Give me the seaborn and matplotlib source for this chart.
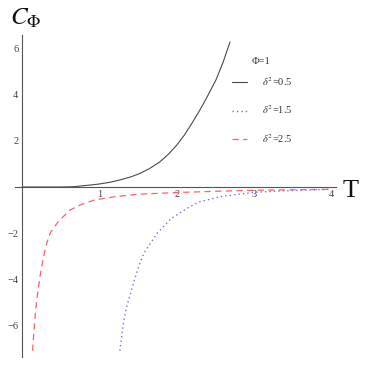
import numpy as np
import pandas as pd
import matplotlib
matplotlib.use("Agg")
import matplotlib.pyplot as plt
from matplotlib.ticker import MultipleLocator
import seaborn as sns

# curves (T, C_Phi)
t_d05 = [0.0, 0.25, 0.5, 0.65, 0.75, 0.9, 1.0, 1.13, 1.26, 1.4, 1.52, 1.65, 1.78,
         1.9, 2.0, 2.1, 2.19, 2.3, 2.4, 2.51, 2.6, 2.69]
c_d05 = [0.0, 0.0, 0.0, 0.01, 0.04, 0.09, 0.13, 0.2, 0.30, 0.43, 0.58, 0.8, 1.08,
         1.44, 1.81, 2.25, 2.72, 3.33, 3.94, 4.65, 5.4, 6.28]

t_d15 = [1.266, 1.288, 1.318, 1.353, 1.404, 1.46, 1.516, 1.576, 1.645, 1.75, 1.93,
         2.17, 2.3, 2.56, 3.0, 3.42, 4.0]
c_d15 = [-7.09, -6.48, -5.76, -5.18, -4.60, -3.95, -3.38, -2.87, -2.51, -2.0, -1.36,
         -0.85, -0.64, -0.42, -0.23, -0.16, -0.10]

t_d25 = [0.138, 0.146, 0.177, 0.203, 0.233, 0.275, 0.319, 0.37, 0.469, 0.62, 0.75,
         0.94, 1.2, 1.52, 2.0, 2.56, 3.0, 3.5, 4.0]
c_d25 = [-7.09, -6.62, -5.32, -4.60, -3.88, -3.09, -2.44, -1.96, -1.50, -1.0, -0.78,
         -0.56, -0.42, -0.31, -0.24, -0.18, -0.14, -0.12, -0.10]

labels = [r"$\delta^2$=0.5", r"$\delta^2$=1.5", r"$\delta^2$=2.5"]
x_ticks = [1, 2, 3, 4]
y_ticks = [-6, -4, -2, 2, 4, 6]

sns.set_style("white")
plt.rcParams["font.family"] = ["Liberation Serif", "DejaVu Serif"]
plt.rcParams["mathtext.fontset"] = "stix"

fig = plt.figure(figsize=(3.74, 3.66), dpi=100)
ax = fig.add_axes([15 / 374, 9 / 366, 321 / 374, 322 / 366])

styles = [
    dict(color="#4a4a4a", linewidth=0.8, linestyle="-"),
    dict(color="#6f6fff", linewidth=1.0, linestyle=(0, (1, 2.2))),
    dict(color="#ff6060", linewidth=0.9, linestyle=(0, (5, 3.5))),
]
series = [(t_d05, c_d05), (t_d15, c_d15), (t_d25, c_d25)]
for (t, c), lab, st in zip(series, labels, styles):
    df = pd.DataFrame({"T": t, "C": c})
    sns.lineplot(data=df, x="T", y="C", ax=ax, sort=False, label=lab, **st)

ax.set_xlim(-0.09, 4.06)
ax.set_ylim(-7.36, 6.58)

# Mathematica-style axes through the origin
for s in ["top", "right"]:
    ax.spines[s].set_visible(False)
for s in ["left", "bottom"]:
    ax.spines[s].set_position(("data", 0))
    ax.spines[s].set_color("#555555")
    ax.spines[s].set_linewidth(0.8)

ax.set_xticks(x_ticks)
ax.set_yticks(y_ticks)
ax.xaxis.set_minor_locator(MultipleLocator(0.2))
ax.yaxis.set_minor_locator(MultipleLocator(0.5))
ax.tick_params(which="major", direction="in", length=3, width=0.6, color="#666666",
               labelsize=7.5, labelcolor="#444444", pad=2.5)
ax.tick_params(which="minor", direction="in", length=1.8, width=0.5, color="#888888")
ax.set_xlabel("")
ax.set_ylabel("")

fig.text(10 / 374, 1 - 25 / 366, r"$C_{\Phi}$", fontsize=18, color="#111111")
fig.text(343 / 374, 1 - 197 / 366, "T", fontsize=19, color="#111111")

# legend title drawn separately so its gap matches the reference
fig.text(261 / 374, 1 - 62 / 366, "\u03a6=1", fontsize=7.5, color="#333333",
         ha="center", va="center")
leg = ax.legend(loc="upper left", bbox_to_anchor=(232 / 374, 1 - 75 / 366),
                bbox_transform=fig.transFigure, frameon=False, fontsize=7.5,
                handlelength=1.4, handletextpad=1.5,
                labelspacing=1.5, borderpad=0, borderaxespad=0)
for txt in leg.get_texts():
    txt.set_color("#333333")

fig.savefig("out.png", dpi=100)
